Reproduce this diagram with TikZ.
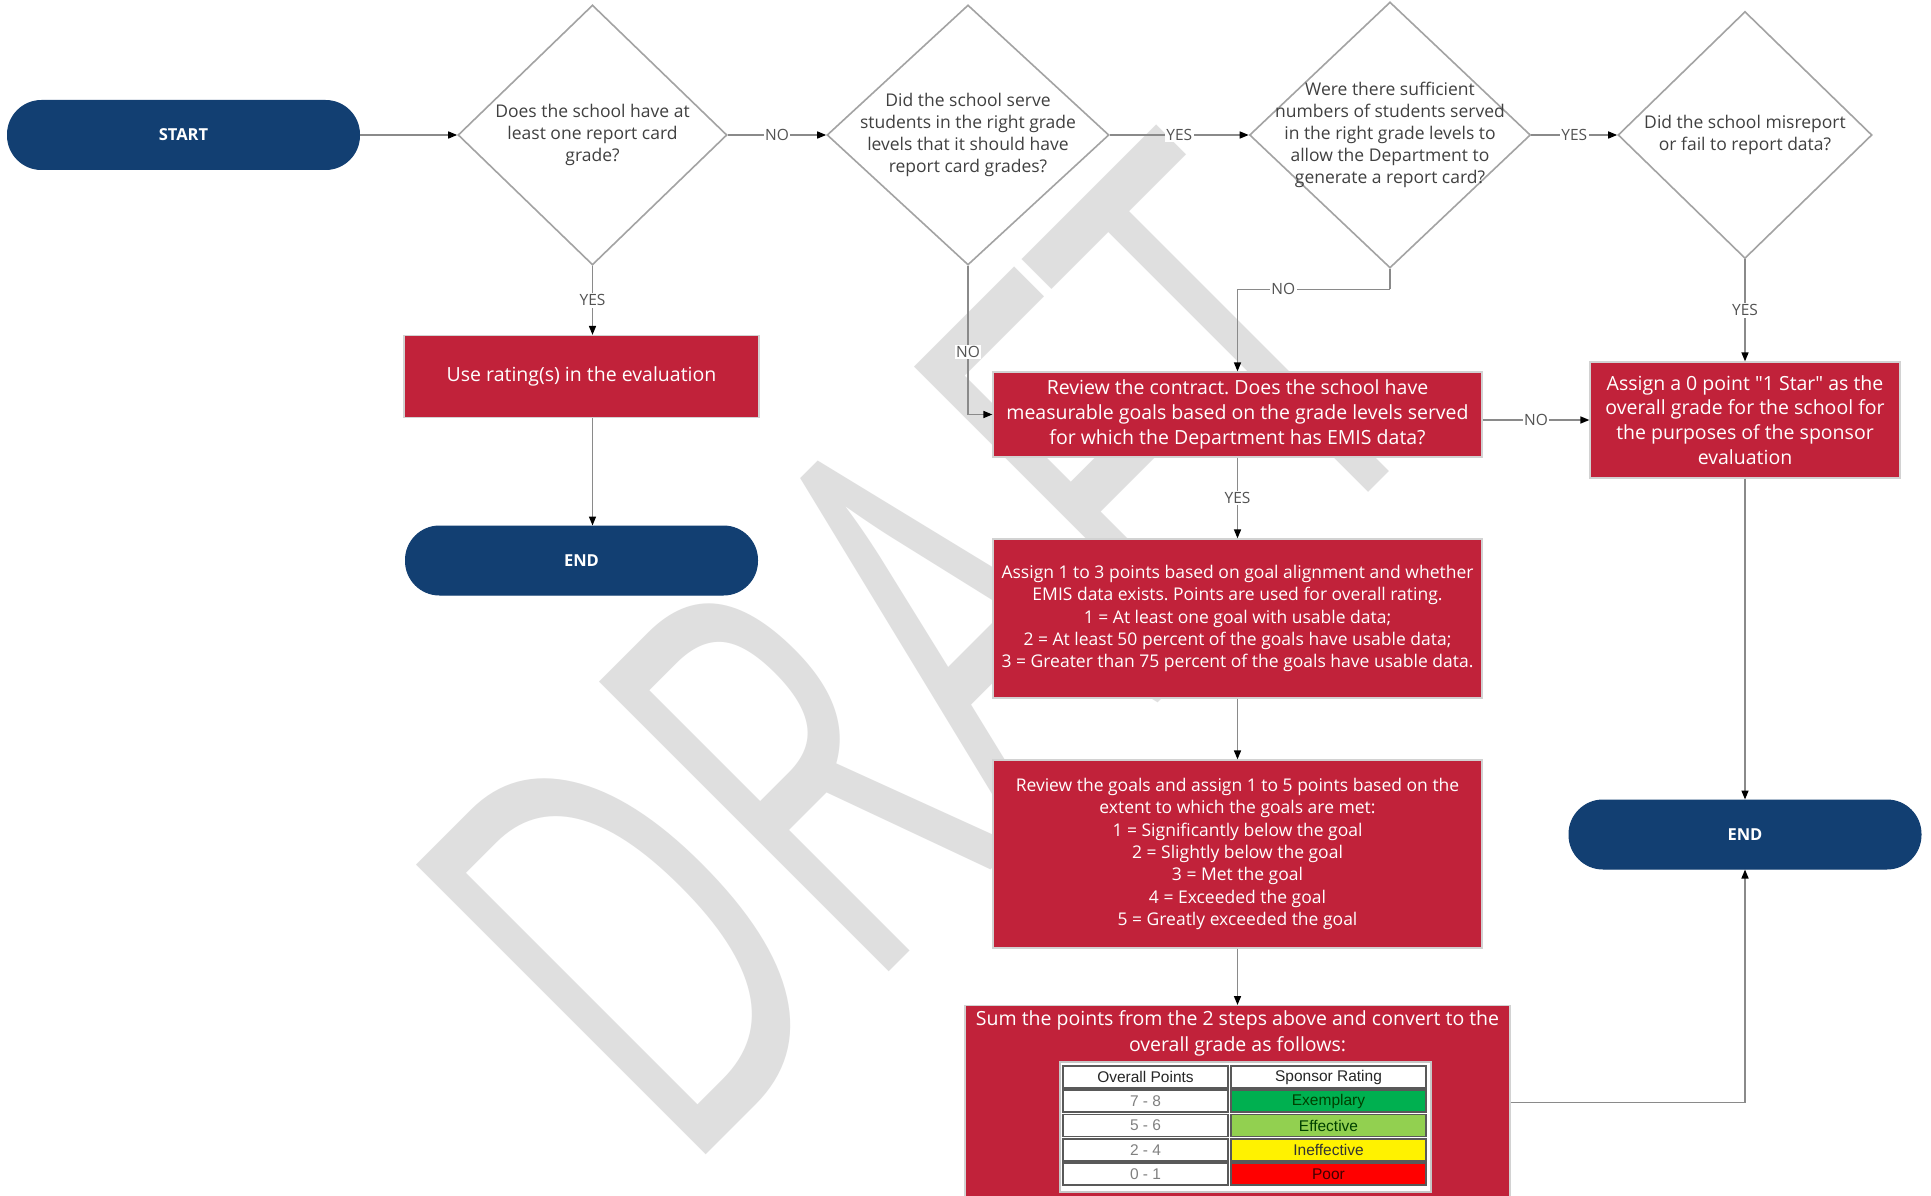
\documentclass[tikz,border=0pt]{standalone}
\usepackage{fontspec}
\setmainfont{Open Sans}
\newfontfamily\tabfont{Liberation Sans}
\usetikzlibrary{shapes.geometric,arrows.meta,calc}
\definecolor{navy}{HTML}{123F72}
\definecolor{boxred}{HTML}{C1223A}
\definecolor{wm}{HTML}{DFDFDF}
\definecolor{dline}{HTML}{A3A3A3}
\definecolor{cline}{HTML}{8A8A8A}
\definecolor{dtxt}{HTML}{404040}
\definecolor{exgreen}{HTML}{00B050}
\definecolor{efgreen}{HTML}{92D050}
\tikzset{
  pill/.style={rectangle, rounded corners=34pt, fill=navy, draw=navy, line width=1pt,
    minimum height=69pt, minimum width=352pt, text=white,
    font=\fontsize{16.5}{18}\selectfont\bfseries},
  rbox/.style={rectangle, fill=boxred, draw=gray!35, line width=1.2pt, text=white,
    align=center, inner sep=0pt},
  bigtxt/.style={font=\fontsize{19.5}{24.8}\selectfont},
  smalltxt/.style={font=\fontsize{17.5}{22.3}\selectfont},
  dia/.style={diamond, draw=dline, line width=1.6pt, fill=white, inner sep=0pt},
  dtext/.style={text=dtxt, align=center, font=\fontsize{17.5}{22}\selectfont, inner sep=0pt},
  conn/.style={draw=cline, line width=1.5pt, -{Triangle[length=9pt,width=7pt,color=black]}},
  lbl/.style={fill=white, text=dtxt!90, font=\fontsize{15.5}{16}\selectfont, inner sep=1.5pt},
  cell/.style={rectangle, draw=black!65, line width=1.3pt, inner sep=0pt,
    minimum height=22pt, font=\tabfont\fontsize{15.5}{17}\selectfont},
}
\frenchspacing
\begin{document}
\begin{tikzpicture}[x=1pt,y=1pt]
\useasboundingbox (0,0) rectangle (1931,-1196);
\fill[white] (0,0) rectangle (1931,-1196);
% watermark
\begin{scope}[shift={(706,-1155)}, rotate=45, xscale=0.62]
  \node[transform shape, anchor=base west, inner sep=0pt, text=wm,
        font=\fontsize{574}{574}\selectfont] (wmk) at (-56,0) {DRAFT};
\end{scope}

% terminals
\node[pill] (start) at (183.5,-135) {START};
\node[pill] (end1) at (581.5,-560.5) {END};
\node[pill] (end2) at (1745,-834.5) {END};

% decisions
\node[dia, minimum width=269pt, minimum height=260pt] (d1) at (592.5,-135) {};
\node[dtext] (d1t) at (d1.center) {Does the school have at\\least one report card\\grade?};
\node[dia, minimum width=282pt, minimum height=260pt] (d2) at (968,-135) {};
\node[dtext] (d2t) at (d2.center) {Did the school serve\\students in the right grade\\levels that it should have\\report card grades?};
\node[dia, minimum width=281pt, minimum height=266pt] (d3) at (1390,-135) {};
\node[dtext] (d3t) at (d3.center) {Were there sufficient\\numbers of students served\\in the right grade levels to\\allow the Department to\\generate a report card?};
\node[dia, minimum width=254pt, minimum height=247pt] (d4) at (1745,-135) {};
\node[dtext] (d4t) at (d4.center) {Did the school misreport\\or fail to report data?};

% process boxes
\node[rbox, bigtxt, minimum width=355pt, minimum height=82pt] (use) at (581.5,-376.5)
  {Use rating(s) in the evaluation};
\node[rbox, bigtxt, minimum width=489pt, minimum height=85pt] (contract) at (1237.5,-414.5)
  {Review the contract. Does the school have\\measurable goals based on the grade levels served\\for which the Department has EMIS data?};
\node[rbox, bigtxt, minimum width=310pt, minimum height=116pt] (assign0) at (1745,-420)
  {Assign a 0 point \textquotedbl 1 Star\textquotedbl{} as the\\overall grade for the school for\\the purposes of the sponsor\\evaluation};
\node[rbox, smalltxt, minimum width=489pt, minimum height=159pt] (assign13) at (1237.5,-618.5)
  {Assign 1 to 3 points based on goal alignment and whether\\EMIS data exists. Points are used for overall rating.\\1 = At least one goal with usable data;\\2 = At least 50 percent of the goals have usable data;\\3 = Greater than 75 percent of the goals have usable data.};
\node[rbox, smalltxt, minimum width=489pt, minimum height=188pt] (goals) at (1237.5,-854)
  {Review the goals and assign 1 to 5 points based on the\\extent to which the goals are met:\\1 = Significantly below the goal\\2 = Slightly below the goal\\3 = Met the goal\\4 = Exceeded the goal\\5 = Greatly exceeded the goal};
\node[rbox, minimum width=545pt, minimum height=194pt, anchor=north] (sum) at (1237.5,-1005) {};
\node[text=white, align=center, anchor=north, inner sep=0pt,
      font=\fontsize{19.5}{26.5}\selectfont] (sumt) at (1237.5,-1010)
  {Sum the points from the 2 steps above and convert to the\\overall grade as follows:};

% table
\node[rectangle, fill=white, draw=gray!45, line width=1.5pt, minimum width=371pt,
      minimum height=130pt, anchor=north west, inner sep=0pt] (tbl) at (1059,-1061) {};
\node[cell, fill=white, minimum width=165pt, text=black!85] (h1) at (1145.5,-1077) {Overall Points};
\node[cell, fill=white, minimum width=195pt, text=black!85] (h2) at (1328.5,-1077) {Sponsor Rating};
\node[cell, fill=white, minimum width=165pt, text=black!50] (p1) at (1145.5,-1101) {7 - 8};
\node[cell, fill=exgreen, minimum width=195pt, text=black!75!green] (r1) at (1328.5,-1101) {Exemplary};
\node[cell, fill=white, minimum width=165pt, text=black!50] (p2) at (1145.5,-1125.5) {5 - 6};
\node[cell, fill=efgreen, minimum width=195pt, text=black!75!green] (r2) at (1328.5,-1125.5) {Effective};
\node[cell, fill=white, minimum width=165pt, text=black!50] (p3) at (1145.5,-1150) {2 - 4};
\node[cell, fill=yellow, minimum width=195pt, text=black!80] (r3) at (1328.5,-1150) {Ineffective};
\node[cell, fill=white, minimum width=165pt, text=black!50] (p4) at (1145.5,-1174) {0 - 1};
\node[cell, fill=red, minimum width=195pt, text=black!75!red] (r4) at (1328.5,-1174) {Poor};

% connectors
\coordinate (k3) at ($(d3.south)+(0,-20.5)$);
\draw[conn] (start.east) -- (d1.west);
\draw[conn] (d1.east) -- node[lbl]{NO} (d2.west);
\draw[conn] (d2.east) -- node[lbl]{YES} (d3.west);
\draw[conn] (d3.east) -- node[lbl]{YES} (d4.west);
\draw[conn] (d1.south) -- node[lbl]{YES} (d1.south |- use.north);
\draw[conn] (use.south -| d1.south) -- (end1.north -| d1.south);
\draw[conn] (d2.south) |- node[lbl, pos=0.29]{NO} (contract.west);
\draw[draw=cline, line width=1.5pt] (d3.south) -- (k3);
\draw[conn] (k3) -| node[lbl, pos=0.35]{NO} (contract.north);
\draw[conn] (d4.south) -- node[lbl]{YES} (assign0.north);
\draw[conn] (contract.east |- assign0.west) -- node[lbl]{NO} (assign0.west);
\draw[conn] (contract.south) -- node[lbl]{YES} (assign13.north);
\draw[conn] (assign13.south) -- (goals.north);
\draw[conn] (goals.south) -- (sum.north);
\draw[conn] (assign0.south) -- (end2.north);
\draw[conn] (sum.east) -| (end2.south);
\end{tikzpicture}
\end{document}
